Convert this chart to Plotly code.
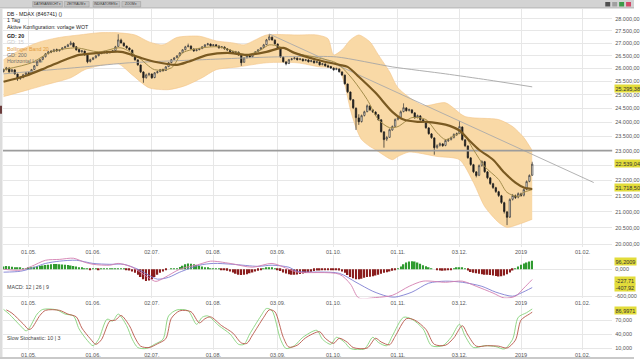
import numpy as np
import pandas as pd
import plotly.graph_objects as go

# ---------------- data ----------------
start = "2018-04-18"

open_ = [25880,25960,26010,25880,25940,25780,25610,25650,25760,25830,
25800,25960,26110,26270,26350,26460,26580,26670,26660,26740,
26700,26740,26820,26860,26940,27000,26850,26740,26660,26680,
26520,26270,26350,26420,26500,26580,26620,26660,26620,26650,
26700,26870,27120,27000,26880,26800,26720,26480,26330,26130,
25860,25650,25760,25780,25650,25840,25880,25960,25920,26070,
26230,26350,26420,26500,26620,26740,26860,26880,26760,26700,
26740,26780,26860,26940,26960,26900,26930,26880,26820,26840,
26770,26720,26650,26620,26640,26520,26240,26420,26490,26460,
26580,26660,26740,26820,26940,27140,27240,27120,26960,26800,
26440,26250,26190,26350,26380,26400,26350,26360,26310,26330,
26270,26290,26230,26250,26150,26170,26100,26070,26010,25960,
25980,25860,25740,25400,25100,24810,24500,24150,24020,24240,
24380,24580,24440,24360,24260,24080,23650,23400,23460,23720,
23850,24100,24170,24380,24510,24420,24440,24330,24170,24220,
24080,24000,23790,23580,23440,23110,23180,23230,23180,23340,
23390,23460,23550,23600,23820,23370,23160,22750,22520,22280,
22170,22500,22620,22280,22080,21890,21760,21630,21500,21280,
20990,20830,21390,21500,21460,21560,21520,21710,21970,22170]

high = [25990,26060,26040,25980,25970,25800,25700,25790,25860,25870,
25980,26130,26290,26380,26480,26600,26690,26720,26770,26780,
26760,26840,26890,26970,27090,27030,26880,26770,26730,26700,
26540,26380,26450,26520,26600,26650,26690,26690,26680,26720,
26890,27360,27180,27030,26900,26830,26740,26510,26360,26150,
25890,25800,25840,25810,25860,25910,25980,25990,26090,26250,
26370,26440,26520,26640,26760,26890,26980,26910,26790,26770,
26800,26880,26960,27010,26990,26960,26960,26910,26880,26870,
26800,26750,26680,26690,26660,26540,26440,26520,26530,26600,
26680,26760,26840,26970,27170,27360,27270,27150,26990,26820,
26470,26290,26370,26410,26440,26430,26400,26390,26370,26360,
26330,26320,26290,26280,26210,26200,26150,26100,26040,26030,
26000,25890,25760,25420,25120,24840,24530,24280,24270,24410,
24640,24610,24470,24390,24290,24100,23680,23510,23770,23880,
24130,24210,24420,24680,24540,24490,24470,24360,24270,24250,
24110,24030,23820,23610,23460,23220,23280,23260,23390,23420,
23490,23600,23630,24040,23850,23400,23180,22780,22550,22310,
22530,22670,22650,22310,22110,21920,21790,21660,21530,21310,
21020,21420,21560,21540,21610,21600,21740,22000,22200,22620]

low = [25840,25920,25830,25850,25760,25520,25560,25620,25730,25760,
25780,25940,26090,26240,26320,26430,26550,26600,26640,26660,
26660,26720,26790,26840,26910,26820,26700,26620,26610,26500,
26200,26230,26320,26390,26470,26560,26590,26580,26590,26630,
26680,26850,26980,26860,26770,26700,26460,26300,26100,25820,
25450,25600,25700,25600,25620,25800,25850,25880,25900,26050,
26200,26320,26400,26480,26600,26710,26830,26740,26650,26670,
26710,26760,26830,26900,26860,26870,26860,26780,26790,26740,
26700,26620,26580,26590,26500,26100,26220,26390,26420,26430,
26550,26630,26720,26800,26920,27110,27100,26940,26780,26420,
26230,26120,26170,26310,26350,26310,26320,26270,26280,26230,
26240,26190,26200,26110,26120,26070,26030,25980,25910,25930,
25840,25710,25380,25060,24780,24470,23720,23900,23980,24200,
24350,24400,24330,24230,24050,23620,23100,23330,23440,23690,
23820,24060,24150,24350,24380,24380,24300,24120,24130,24050,
23970,23760,23550,23410,22860,23060,23140,23130,23150,23300,
23350,23420,23510,23570,23340,23120,22720,22480,22240,22100,
22140,22450,22250,22040,21850,21720,21590,21460,21240,20940,
20580,20800,21350,21400,21420,21470,21480,21680,21940,22150]

close = [25950,26020,25870,25950,25790,25600,25640,25750,25830,25790,
25950,26100,26260,26340,26450,26570,26650,26650,26730,26690,
26730,26810,26850,26930,27010,26850,26730,26650,26690,26530,
26260,26340,26410,26490,26570,26610,26650,26610,26650,26690,
26850,27130,27010,26890,26810,26730,26490,26340,26140,25870,
25640,25750,25790,25640,25830,25870,25950,25910,26060,26220,
26340,26410,26490,26610,26730,26850,26890,26770,26690,26730,
26770,26850,26930,26970,26890,26930,26890,26810,26850,26770,
26730,26650,26610,26650,26530,26220,26410,26490,26450,26570,
26650,26730,26810,26930,27130,27250,27130,26970,26810,26450,
26260,26180,26340,26370,26410,26340,26370,26300,26340,26260,
26300,26220,26260,26140,26180,26100,26060,26020,25950,25990,
25870,25750,25410,25110,24820,24520,24160,24010,24230,24370,
24590,24450,24370,24270,24090,23660,23380,23450,23730,23840,
24090,24160,24370,24520,24410,24450,24340,24160,24230,24090,
24010,23800,23590,23450,23100,23170,23240,23170,23350,23380,
23450,23560,23590,23840,23380,23170,22760,22530,22290,22160,
22490,22630,22290,22090,21900,21770,21640,21510,21290,21000,
20820,21380,21510,21450,21570,21510,21700,21960,22160,22540]

# Bollinger band (trading-day number, value)
upper_day = [0,6,13,20,27,34,41,47,52,57,62,70,76,82,86,90,94,105,112,116,
             118,121,124,127,131,134,138,141,150,158,165,177,182,186,189]
upper_val = [26335,26730,27050,27230,27330,27420,27420,27330,27050,26930,
             27230,27280,27090,27010,26930,27130,27330,27330,27330,27180,
             26530,26730,27130,27330,27050,26530,25870,25260,24600,24700,
             24200,24090,23840,23450,23000]
lower_day = [0,9,15,24,29,34,41,46,52,59,65,71,76,84,94,105,113,119,120,122,
             124,126,128,131,133,139,141,145,155,163,168,172,177,180,184,189]
lower_val = [24930,25190,25370,25640,25950,26100,26180,25750,25260,25190,
             25340,25640,25950,26060,26220,26220,26060,26020,25950,25370,
             24450,23800,23380,23140,23030,22690,22800,22950,22800,22690,
             21930,21160,20660,20510,20600,20760]

# GD 20 (thick) and faster average (thin)
gd20_day = [0,8,15,22,27,34,42,48,54,62,66,73,80,87,94,100,104,112,120,123,
            127,133,139,143,148,151,158,163,166,170,175,179,183,186,189]
gd20_val = [25490,25720,26020,26340,26530,26610,26650,26450,26260,26140,
            26260,26530,26610,26530,26650,26810,26610,26340,26140,26060,
            25680,25070,24370,24090,24010,24010,23910,23700,23400,23030,
            22690,22260,21930,21770,21720]
fast_day = [0,10,17,26,34,42,48,54,60,64,71,77,83,87,92,95,99,104,111,118,
            120,125,130,134,138,141,146,151,155,158,162,164,168,172,177,180,184,186,189]
fast_val = [25950,26220,26650,26810,26650,26810,26450,25950,26020,26610,
            26810,26850,26650,26530,26730,26930,26850,26610,26450,26260,
            26140,25560,24820,24090,23800,23840,24160,24090,23620,23380,
            23560,23620,23030,22460,22030,21610,21480,21610,21700]

gd200_day = [0,29,45,70,97,119,139,158,173,189]
gd200_val = [25790,26060,26220,26335,26450,26450,26060,25790,25560,25295]

trend_day = [95, 211]
trend_val = [27370, 21930]
hline_val = 23000

# MACD 12/26/9
macd_day = [0,6,10,15,20,25,29,32,38,41,46,51,54,55,59,63,70,74,81,89,
            96,102,105,120,124,127,133,139,145,150,158,164,169,175,179,183,186,189]
macd_val = [0,-20,65,200,220,245,155,110,90,130,45,-155,-265,-265,-135,0,110,180,130,45,
            130,0,-65,-110,-330,-640,-630,-580,-380,-265,-290,-265,-380,-530,-640,-600,-420,-228]
signal_day = [0,6,10,15,20,26,32,38,43,48,52,55,59,63,70,75,82,91,96,102,
              105,120,126,132,137,140,146,152,158,164,171,176,182,185,189]
signal_val = [-65,-45,20,130,180,200,130,110,110,0,-135,-220,-180,-65,90,130,110,65,90,45,
              -45,-90,-290,-490,-600,-620,-510,-310,-265,-290,-380,-510,-600,-530,-408]
hist = [60,70,65,55,45, 30,25,20,20,30,
        45,55,65,75,85,95,100, 110,115,115,110,
        105,100,95,85,75,60, 45,30,15,
        5,-5,5,10,-5,5,5,10, 15,20,20,15,10,5,
        -10,-30,-50,-80,-120, -170,-220,-260,-250,-220,
        -170,-120,-80,-50, -20,0,10,15,20,
        50,80,110,130,125, 110,95,80,60,45,30,
        20,15,10,5,-5, -20,-35,-50,
        -70,-100,-120,-130,-125,-110, -90,-70,-50,-35,-20,
        10,30,45,35,15, -10,-40,-70,-95,-110,-120,-120,-115,
        -105,-95,-85,-70,-55,-40,-30,
        -25,-20,-20,-15,-15,-20,-20,-30,
        -50,-80,-130,-170,-200,-220,-225,-210,
        -190,-175,-165,-155,-140,-120,-100,-80,-65,-50,-35,
        -10,20,60,110,150,175,180,170,150,120,90,65,45,
        20,0,-15,-30,-35, -30,-20,-10, 20,35,45,40,
        10,-30,-60,-80,
        -90,-100,-110,-120,-125,-130,-140,-150,-160,-155,-140,-110,
        -70,-30,10,60,100,130,150,170,190]

# Slow stochastic 10/3
k_day = [0,2,6,8,9,12,14,19,22,25,27,30,32,34,37,39,41,44,46,48,
         51,54,57,59,62,66,69,71,73,77,81,84,86,88,92,94,96,99,101,104,
         107,112,114,117,119,122,124,129,132,134,137,139,143,146,150,153,157,160,163,165,
         168,172,176,179,182,184,187,189]
k_val = [93,83,58,47,51,83,93,92,83,79,51,26,15,29,72,68,83,58,29,11,
         9,18,29,79,92,90,61,76,79,58,40,18,18,40,79,95,90,29,9,15,
         33,48,29,18,33,22,9,8,33,22,15,36,76,72,51,15,15,33,61,36,
         11,15,13,8,29,76,86,94]
d_day = [1,3,7,9,10,13,15,20,23,26,28,31,33,35,38,40,42,45,47,49,
         52,55,58,60,63,67,70,72,74,78,82,85,87,89,93,95,97,100,102,105,
         108,113,115,118,120,123,125,130,133,135,138,140,144,147,151,154,158,161,164,166,
         169,173,177,180,183,185,188,189]
d_val = [92,85,62,50,52,80,91,91,83,77,53,30,18,28,68,70,80,58,32,14,
         11,19,30,74,90,88,64,73,77,58,42,21,20,38,76,92,88,33,12,16,
         32,45,31,20,31,22,11,10,31,23,17,35,73,70,50,18,16,32,58,38,
         14,15,14,10,27,70,83,87]

tick_dates = ["2018-05-01","2018-06-01","2018-07-02","2018-08-01","2018-09-03",
              "2018-10-01","2018-11-01","2018-12-03","2019-01-02","2019-02-01"]
tick_text = ["01.05.","01.06.","02.07.","01.08.","03.09.","01.10.","01.11.","03.12.","2019","01.02."]

price_ticks = list(range(20000, 28001, 500))
macd_ticks = [0, -600]
stoch_ticks = [10, 40, 70]

highlights = [("25.295,38", 89), ("22.539,04", 164), ("21.718,50", 188),
              ("96,2009", 262), ("-227,71", 281), ("-407,92", 288), ("86,9971", 311)]

# ---------------- figure ----------------
W, H = 640, 360
def PX(x): return x / W
def PY(y): return 1 - y / H

FONT = "Liberation Sans, Arial, sans-serif"
dates = pd.bdate_range(start, periods=len(close))
day = list(range(len(dates)))
tick_pos = [int(np.busday_count(start, d)) for d in tick_dates]

fig = go.Figure()

# Bollinger band (base price axis, drawn first)
fig.add_trace(go.Scatter(x=upper_day, y=upper_val, mode="lines",
                         line=dict(color="#f3c488", width=0.6, shape="spline", smoothing=0.7),
                         xaxis="x", yaxis="y", hoverinfo="skip"))
fig.add_trace(go.Scatter(x=lower_day, y=lower_val, mode="lines", fill="tonexty",
                         fillcolor="#f9d9a6",
                         line=dict(color="#f3c488", width=0.6, shape="spline", smoothing=0.7),
                         xaxis="x", yaxis="y", hoverinfo="skip"))
# candles + lines on an overlaying price axis (drawn above the band)
fig.add_trace(go.Candlestick(x=day, open=open_, high=high, low=low, close=close,
                             increasing=dict(line=dict(color="#3a3a3a", width=0.7), fillcolor="#fbf7ef"),
                             decreasing=dict(line=dict(color="#1c1c1c", width=0.7), fillcolor="#1c1c1c"),
                             whiskerwidth=0, xaxis="x", yaxis="y4", hoverinfo="skip"))
fig.add_trace(go.Scatter(x=gd200_day, y=gd200_val, mode="lines",
                         line=dict(color="#a6a6a6", width=0.9, shape="spline", smoothing=0.6),
                         xaxis="x", yaxis="y4", hoverinfo="skip"))
fig.add_trace(go.Scatter(x=trend_day, y=trend_val, mode="lines",
                         line=dict(color="#aaaaaa", width=0.9),
                         xaxis="x", yaxis="y4", hoverinfo="skip"))
fig.add_trace(go.Scatter(x=[-1, 220], y=[hline_val, hline_val], mode="lines",
                         line=dict(color="#9c9c9c", width=1.6),
                         xaxis="x", yaxis="y4", hoverinfo="skip"))
fig.add_trace(go.Scatter(x=fast_day, y=fast_val, mode="lines",
                         line=dict(color="#a48d4c", width=1.0, shape="spline", smoothing=0.8),
                         xaxis="x", yaxis="y4", hoverinfo="skip"))
fig.add_trace(go.Scatter(x=gd20_day, y=gd20_val, mode="lines",
                         line=dict(color="#7a5a22", width=2.2, shape="spline", smoothing=0.8),
                         xaxis="x", yaxis="y4", hoverinfo="skip"))

# MACD
fig.add_trace(go.Bar(x=day, y=hist, width=0.55,
                     marker=dict(color=["#2f9a2f" if v >= 0 else "#8a1c1c" for v in hist], line=dict(width=0)),
                     xaxis="x2", yaxis="y2", hoverinfo="skip"))
fig.add_trace(go.Scatter(x=signal_day, y=signal_val, mode="lines",
                         line=dict(color="#7f7fd2", width=0.9, shape="spline", smoothing=0.8),
                         xaxis="x2", yaxis="y2", hoverinfo="skip"))
fig.add_trace(go.Scatter(x=macd_day, y=macd_val, mode="lines",
                         line=dict(color="#d47fb0", width=0.9, shape="spline", smoothing=0.8),
                         xaxis="x2", yaxis="y2", hoverinfo="skip"))
# Stochastic
fig.add_trace(go.Scatter(x=k_day, y=k_val, mode="lines",
                         line=dict(color="#86d27a", width=0.9, shape="spline", smoothing=0.8),
                         xaxis="x3", yaxis="y3", hoverinfo="skip"))
fig.add_trace(go.Scatter(x=d_day, y=d_val, mode="lines",
                         line=dict(color="#b8564a", width=0.9, shape="spline", smoothing=0.8),
                         xaxis="x3", yaxis="y3", hoverinfo="skip"))

xdom = [PX(3), PX(618)]
xr = [-0.21, 217.6]
tickfont = dict(family=FONT, size=5.5, color="#555")
grid = "#e7e7e7"

def xax(anchor):
    return dict(domain=xdom, range=xr, anchor=anchor, tickvals=tick_pos, ticktext=tick_text,
                tickfont=tickfont, ticks="", showgrid=True, gridcolor=grid, gridwidth=0.6,
                zeroline=False, showline=False, fixedrange=True)

def yax(anchor, dom, rng, tv, tt, typ="linear"):
    return dict(domain=dom, range=rng, anchor=anchor, side="right", type=typ,
                tickvals=tv, ticktext=tt, tickfont=tickfont, ticks="",
                ticklabelstandoff=2, showgrid=True, gridcolor=grid, gridwidth=0.6,
                zeroline=False, showline=False, fixedrange=True)

# the 22.500 label is hidden behind the last-price marker in the original
price_text = ["" if v == 22500 else f"{v:,}".replace(",", ".") + ",00" for v in price_ticks]
macd_text = [f"{v:,.3f}".replace(".", ",") for v in macd_ticks]
stoch_text = [f"{v:.3f}".replace(".", ",") for v in stoch_ticks]
price_range = [np.log10(19910), np.log10(28411)]

fig.update_layout(
    width=W, height=H, margin=dict(l=0, r=0, t=0, b=0),
    paper_bgcolor="white", plot_bgcolor="white", showlegend=False, hovermode=False,
    xaxis=dict(**xax("y"), rangeslider=dict(visible=False)),
    xaxis2=xax("y2"), xaxis3=xax("y3"),
    yaxis=yax("x", [PY(248), PY(9)], price_range, price_ticks, price_text, "log"),
    yaxis4=dict(overlaying="y", anchor="x", type="log", range=price_range, visible=False,
                showgrid=False, fixedrange=True),
    yaxis2=yax("x2", [PY(299), PY(256)], [-644, 311], macd_ticks, macd_text),
    yaxis3=yax("x3", [PY(351), PY(305)], [5.7, 104.3], stoch_ticks, stoch_text),
)

shapes = []
# toolbar
shapes.append(dict(type="rect", xref="paper", yref="paper", x0=0, x1=1, y0=PY(8), y1=1,
                   fillcolor="#d3d3d3", line=dict(width=0), layer="above"))
shapes.append(dict(type="line", xref="paper", yref="paper", x0=0, x1=1, y0=PY(8), y1=PY(8),
                   line=dict(color="#a8a8a8", width=0.8), layer="above"))
tabs = [(33, 63, "DATENANSICHT"), (65, 90, "ZEITRAUM"), (94, 121, "INDIKATOREN"), (123, 142, "ZOOM")]
for x0, x1, t in tabs:
    shapes.append(dict(type="rect", xref="paper", yref="paper", x0=PX(x0), x1=PX(x1), y0=PY(7), y1=PY(1.5),
                       fillcolor="#c2c2c2", line=dict(color="#9a9a9a", width=0.5), layer="above"))
for i, c in enumerate(["#505050", "#a0a0a0", "#3c9a48", "#d24a6a"]):
    shapes.append(dict(type="rect", xref="paper", yref="paper", x0=PX(611 + 7 * i), x1=PX(616 + 7 * i),
                       y0=PY(6.5), y1=PY(2), fillcolor=c, line=dict(width=0), layer="above"))
# left border strip
shapes.append(dict(type="rect", xref="paper", yref="paper", x0=0, x1=PX(2.5), y0=0, y1=PY(8),
                   fillcolor="#dcdcdc", line=dict(width=0), layer="above"))
shapes.append(dict(type="rect", xref="paper", yref="paper", x0=0, x1=PX(2), y0=PY(114), y1=PY(106),
                   fillcolor="#6a3a3a", line=dict(width=0), layer="above"))
# bottom edge
shapes.append(dict(type="rect", xref="paper", yref="paper", x0=0, x1=1, y0=0, y1=PY(358),
                   fillcolor="#c9c9c9", line=dict(width=0), layer="above"))
fig.update_layout(shapes=shapes)

ann = []
def text(x, y, s, size=5.3, color="#222", anchor="left"):
    ann.append(dict(xref="paper", yref="paper", x=PX(x), y=PY(y), text=s, showarrow=False,
                    xanchor=anchor, yanchor="middle", font=dict(family=FONT, size=size, color=color)))

for x0, x1, t in tabs:
    text((x0 + x1) / 2, 4.3, t + " \u25be", size=3.2, color="#333", anchor="center")

text(5, 14, "DB - MDAX (846741) ()")
text(5, 20.5, "1 Tag")
text(5, 27, "Aktive Konfiguration: vorlage WOT")
text(5, 36, "<b>GD: 20</b>", color="#222")
text(5, 42.5, "GD: 15", color="#c9c9c9")
text(5, 49, "Bollinger Band 20", color="#e39a3b")
text(5, 55, "GD: 200", color="#6e6e6e")
text(5, 61, "Horizontal Line", color="#6e6e6e")
text(5, 287.5, "MACD: 12 | 26 | 9", color="#444")
text(5, 338.5, "Slow Stochastic: 10 | 3", color="#444")

for s, y in highlights:
    ann.append(dict(xref="paper", yref="paper", x=PX(620), y=PY(y), text=s, showarrow=False,
                    xanchor="left", yanchor="middle", bgcolor="#e2dc3a", borderpad=0.5,
                    font=dict(family=FONT, size=5.5, color="#333")))
fig.update_layout(annotations=ann)

fig.write_html("out.html")
